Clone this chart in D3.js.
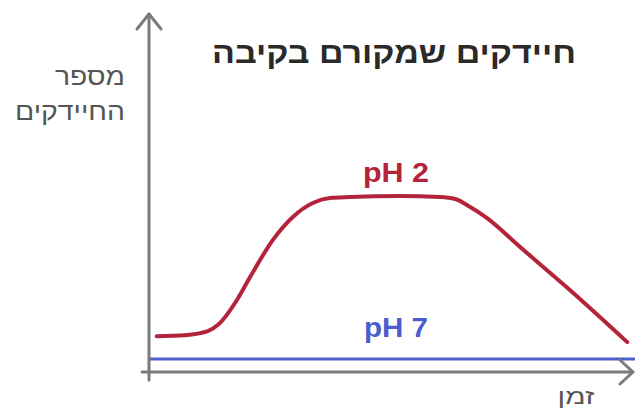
<!DOCTYPE html>
<html lang="he">
<head>
<meta charset="utf-8">
<script src="https://cdn.jsdelivr.net/npm/d3@7/dist/d3.min.js"></script>
<style>
  html, body { margin: 0; padding: 0; background: #ffffff; }
  svg { display: block; }
  text { font-family: "Liberation Sans", Arial, sans-serif; }
</style>
</head>
<body>
<svg id="chart" width="636" height="409"></svg>
<script>
// Bacteria count over time at two stomach pH levels (schematic)
const time = [1.6, 7.4, 12.1, 14.2, 18.1, 20.8, 25.5, 29.6, 33.7, 37.2, 41.4, 51.6, 59.9, 63.0, 65.4, 69.5, 76.3, 86.6, 98.4];
const ph2Counts = [10.8, 11.1, 12.3, 14.2, 21.7, 28.6, 39.8, 46.7, 50.9, 52.4, 52.7, 53.0, 52.7, 52.1, 50.3, 46.4, 37.7, 24.7, 9.0];
const ph7Time = [0, 100];
const ph7Counts = [3.9, 3.9];

const titleText = "חיידקים שמקורם בקיבה";
const yLabelLines = ["מספר", "החיידקים"];
const xLabelText = "זמן";
const seriesLabels = ["pH 2", "pH 7"];

const svg = d3.select("#chart");

const x = d3.scaleLinear().domain([0, 100]).range([149, 635]);
const y = d3.scaleLinear().domain([0, 100]).range([372, 40]);

const axisColor = "#7b7b7b";
const red = "#b3243a";
const blue = "#4b5fcc";

// pH 7 line
const line = d3.line().x(d => x(d[0])).y(d => y(d[1]));
svg.append("path")
  .datum(ph7Time.map((t, i) => [t, ph7Counts[i]]))
  .attr("d", line)
  .attr("fill", "none")
  .attr("stroke", blue)
  .attr("stroke-width", 3);

// pH 2 curve
const smooth = d3.line().x(d => x(d[0])).y(d => y(d[1])).curve(d3.curveMonotoneX);
svg.append("path")
  .datum(time.map((t, i) => [t, ph2Counts[i]]))
  .attr("d", smooth)
  .attr("fill", "none")
  .attr("stroke", red)
  .attr("stroke-width", 4)
  .attr("stroke-linecap", "round")
  .attr("stroke-linejoin", "round");

// Axes with open arrowheads
const axes = svg.append("g")
  .attr("stroke", axisColor)
  .attr("stroke-width", 3)
  .attr("fill", "none")
  .attr("stroke-linecap", "round")
  .attr("stroke-linejoin", "round");

const x0 = x(0), y0 = y(0);
axes.append("line").attr("x1", x0).attr("y1", y0 + 8).attr("x2", x0).attr("y2", 14);
axes.append("polyline").attr("points", `${x0 - 12},29 ${x0},14 ${x0 + 12},29`);
axes.append("line").attr("x1", x0 - 7).attr("y1", y0).attr("x2", 633).attr("y2", y0);
axes.append("polyline").attr("points", `620,${y0 - 12} 633,${y0} 620,${y0 + 12}`);

// Title
svg.append("text")
  .attr("x", 394).attr("y", 63)
  .attr("text-anchor", "middle")
  .attr("font-size", 30)
  .attr("font-weight", "bold")
  .attr("fill", "#2a2a2a")
  .attr("textLength", 364)
  .attr("lengthAdjust", "spacingAndGlyphs")
  .text(titleText);

// Axis labels
const yLabelWidths = [70, 110];
svg.append("g")
  .selectAll("text")
  .data(yLabelLines)
  .join("text")
  .attr("x", 125)
  .attr("y", (d, i) => 85 + i * 35)
  .attr("text-anchor", "end")
  .attr("font-size", 25)
  .attr("fill", "#555555")
  .attr("textLength", (d, i) => yLabelWidths[i])
  .attr("lengthAdjust", "spacingAndGlyphs")
  .text(d => d);

svg.append("text")
  .attr("x", 576).attr("y", 404)
  .attr("text-anchor", "middle")
  .attr("font-size", 22)
  .attr("fill", "#555555")
  .attr("textLength", 37)
  .attr("lengthAdjust", "spacingAndGlyphs")
  .text(xLabelText);

// Series labels
svg.append("text")
  .attr("x", 396).attr("y", 182)
  .attr("text-anchor", "middle")
  .attr("font-size", 27)
  .attr("font-weight", "bold")
  .attr("fill", red)
  .attr("textLength", 66)
  .attr("lengthAdjust", "spacingAndGlyphs")
  .text(seriesLabels[0]);

svg.append("text")
  .attr("x", 396).attr("y", 337)
  .attr("text-anchor", "middle")
  .attr("font-size", 27)
  .attr("font-weight", "bold")
  .attr("fill", blue)
  .attr("textLength", 64)
  .attr("lengthAdjust", "spacingAndGlyphs")
  .text(seriesLabels[1]);
</script>
</body>
</html>
